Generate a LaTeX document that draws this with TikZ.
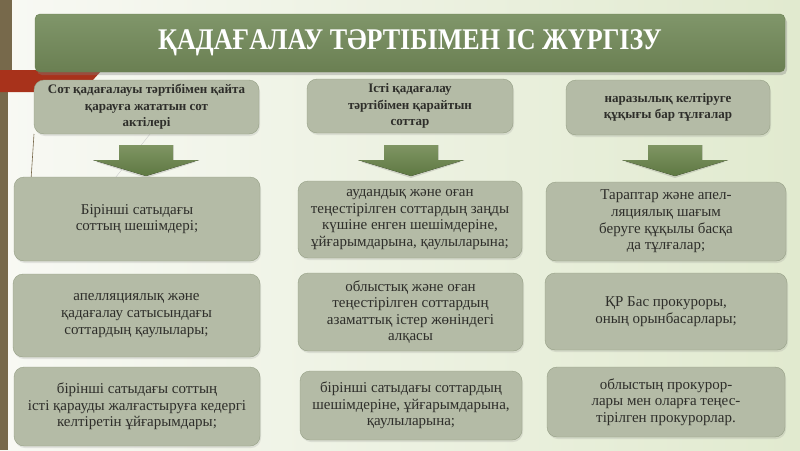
\documentclass[tikz,border=0pt]{standalone}
\usepackage{fontspec}
\setmainfont{Liberation Serif}
\newfontfamily\titlefont[FakeStretch=0.87]{Liberation Serif}
\usetikzlibrary{shadows}

\definecolor{bgleft}{HTML}{F8F9F4}
\definecolor{bgright}{HTML}{E1EACF}
\definecolor{boxfill}{HTML}{B4BBA6}
\definecolor{boxline}{HTML}{96A086}
\definecolor{textdark}{HTML}{2E2E2A}
\definecolor{titletop}{HTML}{80966A}
\definecolor{titlebot}{HTML}{6A7F52}
\definecolor{arrtop}{HTML}{7F9563}
\definecolor{arrbot}{HTML}{5E7842}
\definecolor{barbrown}{HTML}{77694B}
\definecolor{barred}{HTML}{A8321B}

\begin{document}
\begin{tikzpicture}
[x=1pt,y=-1pt,
 box/.style={draw=boxline,fill=boxfill,rounded corners=10pt,align=center,text=textdark,
   inner sep=2pt,font=\fontsize{15}{16.6}\selectfont,
   drop shadow={opacity=.18,shadow xshift=1pt,shadow yshift=-2pt}},
 headbox/.style={box,font=\bfseries\fontsize{13}{16.5}\selectfont},
 titlebox/.style={rounded corners=5pt,top color=titletop,bottom color=titlebot,draw=titlebot,
   text=white,font=\titlefont\bfseries\fontsize{30}{32}\selectfont,
   drop shadow={opacity=.35,shadow xshift=2pt,shadow yshift=-3pt}},
 blockarr/.style={top color=arrtop,bottom color=arrbot}]

% background and left decoration
\shade[left color=bgleft,right color=bgright] (0,0) rectangle (800,450);
\fill[barbrown] (0,0) rectangle (12,70);
\fill[barbrown] (0,92) rectangle (8,450);
\fill[barred] (0,70) -- (102,70) -- (82,92) -- (0,92) -- cycle;
\draw[barbrown,line width=.6pt] (34,134) -- (31,180);
\draw[gray!40,line width=.4pt] (150,134) -- (112,182);

% title
\node[titlebox,minimum width=750,minimum height=58] (hd) at (410,43) {ҚАДАҒАЛАУ ТӘРТІБІМЕН ІС ЖҮРГІЗУ};

% headers
\node[headbox,minimum width=225,minimum height=54] (s1) at (146.5,107) {Сот қадағалауы тәртібімен қайта\\қарауға жататын сот\\актілері};
\node[headbox,minimum width=206,minimum height=54] (s2) at (410,106) {Істі қадағалау\\тәртібімен қарайтын\\соттар};
\node[headbox,minimum width=204,minimum height=55] (s3) at (668,107.5) {наразылық келтіруге\\құқығы бар тұлғалар};

% block arrows
\coordinate (ar1) at (146,160);
\coordinate (ar2) at (411,160);
\coordinate (ar3) at (675,160);
\foreach \a in {ar1,ar2,ar3}
{\fill[black,opacity=.12] (\a) +(-50,2) -- +(50,2) -- +(0,18) -- cycle;
 \fill[blockarr] (\a) +(-27,-15) -- +(27,-15) -- +(27,0) -- +(53,0) -- +(0,16) -- +(-53,0) -- +(-27,0) -- cycle;}

% left column
\node[box,minimum width=246,minimum height=84] (l1) at (137,219) {Бірінші сатыдағы\\соттың шешімдері;};
\node[box,minimum width=247,minimum height=83] (l2) at (136.5,315.5) {апелляциялық және\\қадағалау сатысындағы\\соттардың қаулылары;};
\node[box,minimum width=246,minimum height=79] (l3) at (137,406.5) {бірінші сатыдағы соттың\\істі қарауды жалғастыруға кедергі\\келтіретін ұйғарымдары;};

% middle column
\node[box,minimum width=224,minimum height=77] (m1) at (410,219.5) {аудандық және оған\\теңестірілген соттардың заңды\\күшіне енген шешімдеріне,\\ұйғарымдарына, қаулыларына;};
\node[box,minimum width=225,minimum height=78] (m2) at (410.5,312) {облыстық және оған\\теңестірілген соттардың\\азаматтық істер жөніндегі\\алқасы};
\node[box,minimum width=222,minimum height=69] (m3) at (411,405.5) {бірінші сатыдағы соттардың\\шешімдеріне, ұйғарымдарына,\\қаулыларына;};

% right column
\node[box,minimum width=240,minimum height=79] (r1) at (666,221.5) {Тараптар және апел-\\ляциялық шағым\\беруге құқылы басқа\\да тұлғалар;};
\node[box,minimum width=242,minimum height=77] (r2) at (666,311.5) {ҚР Бас прокуроры,\\оның орынбасарлары;};
\node[box,minimum width=238,minimum height=70] (r3) at (666,402) {облыстың прокурор-\\лары мен оларға теңес-\\тірілген прокурорлар.};
\end{tikzpicture}
\end{document}
